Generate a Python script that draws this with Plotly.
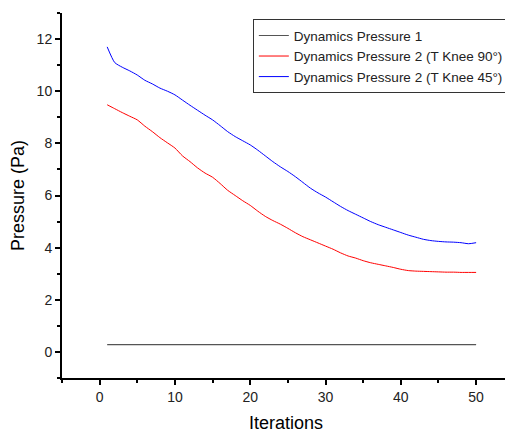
import plotly.graph_objects as go

iterations = list(range(1, 51))

pressure_1 = [0.28] * 50

knee_90 = [9.48, 9.33, 9.18, 9.04, 8.90, 8.66, 8.45, 8.22, 8.02, 7.82,
           7.52, 7.30, 7.06, 6.86, 6.70, 6.46, 6.20, 6.00, 5.80, 5.62,
           5.40, 5.20, 5.04, 4.90, 4.74, 4.57, 4.42, 4.30, 4.18, 4.06,
           3.94, 3.80, 3.68, 3.60, 3.50, 3.42, 3.36, 3.30, 3.24, 3.17,
           3.12, 3.10, 3.09, 3.08, 3.07, 3.06, 3.06, 3.05, 3.05, 3.05]

knee_45 = [11.70, 11.10, 10.92, 10.78, 10.62, 10.42, 10.28, 10.12, 10.00, 9.86,
           9.66, 9.46, 9.27, 9.08, 8.90, 8.68, 8.45, 8.26, 8.10, 7.94,
           7.74, 7.52, 7.30, 7.10, 6.92, 6.72, 6.50, 6.28, 6.10, 5.94,
           5.76, 5.58, 5.42, 5.28, 5.14, 5.00, 4.88, 4.78, 4.68, 4.58,
           4.48, 4.40, 4.32, 4.27, 4.24, 4.22, 4.21, 4.19, 4.15, 4.19]

names = ["Dynamics Pressure 1",
         "Dynamics Pressure 2 (T Knee 90°)",
         "Dynamics Pressure 2 (T Knee 45°)"]

fig = go.Figure()
fig.add_trace(go.Scatter(x=iterations, y=pressure_1, mode="lines", name=names[0],
                         line=dict(color="#555555", width=1.2)))
fig.add_trace(go.Scatter(x=iterations, y=knee_90, mode="lines", name=names[1],
                         line=dict(color="#FF0000", width=1, shape="spline", smoothing=0.6)))
fig.add_trace(go.Scatter(x=iterations, y=knee_45, mode="lines", name=names[2],
                         line=dict(color="#0000FF", width=1, shape="spline", smoothing=0.6)))

font_family = "Liberation Sans, Arial, sans-serif"

# page body has an 8px margin, so the figure is sized/offset to compensate
fig.update_layout(
    width=505, height=425,
    margin=dict(l=54, r=3, t=5, b=55),
    paper_bgcolor="white", plot_bgcolor="white",
    font=dict(family=font_family, color="#222222", size=14),
    showlegend=True,
    legend=dict(x=0.426, y=0.983, xanchor="left", yanchor="top",
                bgcolor="white", bordercolor="#333333", borderwidth=1,
                font=dict(size=13.5, family=font_family, color="#222222"),
                itemwidth=30, tracegroupgap=0),
)
fig.update_xaxes(
    range=[-5, 54.5], showgrid=False, zeroline=False, automargin=False,
    showline=True, linecolor="black", linewidth=2,
    ticks="outside", ticklen=5, tickwidth=1.5, tickcolor="black",
    tick0=0, dtick=10,
    minor=dict(ticks="outside", ticklen=3, tickwidth=1.5, tickcolor="black", dtick=5, tick0=0),
    tickfont=dict(size=14),
    title=dict(text="Iterations", font=dict(size=18, color="black"), standoff=16),
)
fig.update_yaxes(
    range=[-1, 13], showgrid=False, zeroline=False, automargin=False,
    showline=True, linecolor="black", linewidth=2,
    ticks="outside", ticklen=5, tickwidth=1.5, tickcolor="black",
    tick0=0, dtick=2,
    minor=dict(ticks="outside", ticklen=3, tickwidth=1.5, tickcolor="black", dtick=1, tick0=0),
    tickfont=dict(size=14),
    title=dict(text="Pressure (Pa)", font=dict(size=18, color="black"), standoff=10),
)

fig.write_html("out.html")
